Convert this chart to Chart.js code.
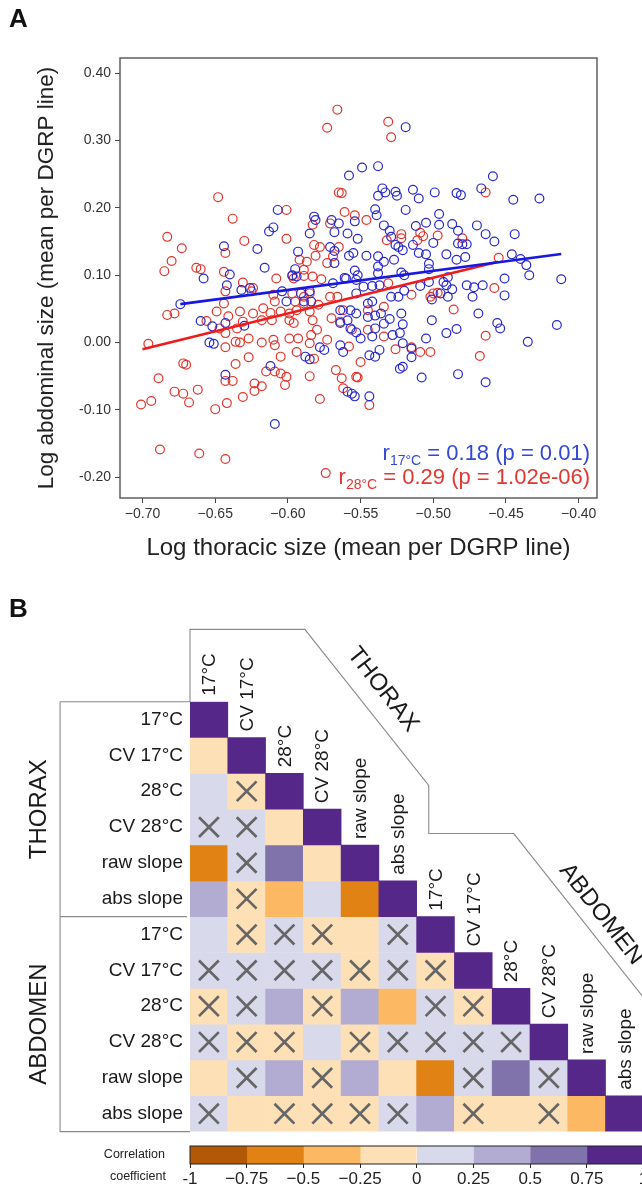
<!DOCTYPE html>
<html>
<head>
<meta charset="utf-8">
<script src="https://cdn.jsdelivr.net/npm/chart.js@4.4.0/dist/chart.umd.min.js"></script>
<style>
html, body { margin:0; padding:0; background:#fff; overflow:hidden; width:642px; height:1187px; }
.wrap { position:absolute; left:0; }
#wrapA { top:0; width:642px; height:590px; }
#wrapB { top:590px; width:660px; height:560px; }
#wrapC { top:1140px; width:660px; height:47px; }
.panel { position:absolute; left:9px; font: bold 26px "Liberation Sans", Arial, sans-serif; color:#111; }
</style>
</head>
<body>
<div class="wrap" id="wrapA"><canvas id="chartA"></canvas></div>
<div class="wrap" id="wrapB"><canvas id="chartB"></canvas></div>
<div class="wrap" id="wrapC"><canvas id="chartC"></canvas></div>
<div class="panel" style="top:3px">A</div>
<div class="panel" style="top:593px">B</div>
<script>
// ---------- panel A data ----------
// [log thoracic size, log abdominal size] per DGRP line
const blue17 = [
  [-0.558,0.248],[-0.549,0.260],[-0.607,0.197],[-0.610,0.171],[-0.613,0.165],[-0.582,0.187],[-0.581,0.182],[-0.570,0.182],
  [-0.565,0.177],[-0.554,0.180],[-0.585,0.162],[-0.568,0.164],[-0.559,0.162],[-0.552,0.154],[-0.644,0.143],[-0.621,0.139],
  [-0.593,0.135],[-0.571,0.142],[-0.568,0.136],[-0.558,0.129],[-0.555,0.133],[-0.568,0.118],[-0.616,0.111],[-0.595,0.109],
  [-0.640,0.101],[-0.658,0.095],[-0.554,0.107],[-0.561,0.096],
  [-0.519,0.320],[-0.538,0.262],[-0.459,0.247],[-0.467,0.229],[-0.535,0.229],[-0.538,0.218],[-0.533,0.223],[-0.526,0.224],
  [-0.525,0.218],[-0.514,0.227],[-0.510,0.214],[-0.499,0.223],[-0.484,0.222],[-0.481,0.219],[-0.445,0.212],[-0.427,0.214],
  [-0.540,0.198],[-0.539,0.189],[-0.519,0.197],[-0.496,0.191],[-0.505,0.178],[-0.512,0.173],[-0.496,0.175],[-0.487,0.176],
  [-0.470,0.174],[-0.534,0.174],[-0.530,0.166],[-0.483,0.166],[-0.464,0.161],[-0.444,0.161],[-0.529,0.157],[-0.526,0.145],
  [-0.524,0.142],[-0.521,0.137],[-0.514,0.145],[-0.500,0.148],[-0.483,0.147],[-0.480,0.146],[-0.477,0.146],[-0.458,0.150],
  [-0.546,0.129],[-0.538,0.128],[-0.534,0.120],[-0.527,0.123],[-0.510,0.133],[-0.505,0.131],[-0.491,0.131],[-0.484,0.123],
  [-0.478,0.127],[-0.446,0.131],[-0.440,0.124],[-0.436,0.115],[-0.503,0.117],[-0.503,0.109],[-0.522,0.104],[-0.520,0.100],
  [-0.538,0.113],[-0.538,0.103],[-0.434,0.100],[-0.451,0.095],[-0.412,0.094],[-0.552,0.100],
  [-0.451,0.070],[-0.477,0.085],[-0.472,0.082],[-0.466,0.085],[-0.473,0.068],[-0.491,0.085],[-0.493,0.090],[-0.490,0.097],
  [-0.487,0.079],[-0.495,0.073],[-0.501,0.064],[-0.490,0.068],[-0.520,0.077],[-0.524,0.068],[-0.529,0.068],[-0.509,0.084],
  [-0.503,0.090],[-0.537,0.085],[-0.542,0.084],[-0.548,0.083],[-0.553,0.073],[-0.542,0.061],[-0.545,0.058],[-0.530,0.035],
  [-0.536,0.043],[-0.540,0.040],[-0.545,0.038],[-0.522,0.043],[-0.521,0.027],[-0.534,0.028],[-0.540,0.021],[-0.542,0.009],
  [-0.550,0.006],[-0.553,0.015],[-0.528,0.011],[-0.523,0.014],[-0.521,-0.001],[-0.501,0.033],[-0.505,0.006],[-0.491,0.014],
  [-0.484,0.020],[-0.469,0.043],[-0.456,0.029],[-0.454,0.021],[-0.435,0.001],[-0.415,0.026],[-0.540,-0.021],[-0.537,-0.011],
  [-0.544,-0.019],[-0.515,-0.009],[-0.515,-0.022],[-0.521,-0.036],[-0.523,-0.039],[-0.508,-0.052],[-0.483,-0.047],[-0.464,-0.059],
  [-0.544,-0.080],[-0.554,-0.080],[-0.556,-0.076],
  [-0.660,0.032],[-0.651,-0.002],[-0.654,0.000],[-0.642,0.085],[-0.674,0.057],[-0.652,0.024],[-0.643,0.029],[-0.630,0.025],
  [-0.632,0.078],[-0.626,0.081],[-0.604,0.076],[-0.601,0.061],[-0.591,0.073],[-0.589,0.061],[-0.585,0.076],[-0.584,0.061],
  [-0.597,0.100],[-0.594,0.098],[-0.569,0.088],[-0.560,0.095],[-0.553,0.093],[-0.564,0.048],[-0.557,0.048],[-0.553,0.043],
  [-0.564,0.029],[-0.559,0.033],[-0.557,0.021],[-0.564,-0.004],[-0.562,-0.014],[-0.578,-0.007],[-0.575,-0.011],[-0.588,-0.021],
  [-0.585,-0.025],[-0.612,-0.035],[-0.643,-0.048],[-0.609,-0.121],[-0.559,-0.073]
];
const red28 = [
  [-0.566,0.346],[-0.573,0.319],[-0.648,0.216],[-0.565,0.223],[-0.563,0.222],[-0.638,0.184],[-0.601,0.197],[-0.561,0.194],
  [-0.683,0.157],[-0.673,0.140],[-0.680,0.121],[-0.685,0.106],[-0.663,0.111],[-0.660,0.109],[-0.644,0.105],[-0.643,0.133],
  [-0.630,0.151],[-0.601,0.154],[-0.583,0.175],[-0.571,0.177],[-0.554,0.189],[-0.582,0.145],[-0.578,0.142],[-0.565,0.142],
  [-0.592,0.123],[-0.587,0.120],[-0.573,0.118],[-0.569,0.128],[-0.597,0.099],[-0.608,0.095],
  [-0.531,0.328],[-0.529,0.305],[-0.546,0.182],[-0.464,0.223],[-0.532,0.152],[-0.522,0.161],[-0.522,0.155],[-0.509,0.163],
  [-0.507,0.158],[-0.497,0.159],[-0.480,0.155],[-0.511,0.152],[-0.455,0.126],
  [-0.531,0.088],[-0.458,0.081],[-0.515,0.071],[-0.502,0.068],[-0.500,0.073],[-0.497,0.074],[-0.534,0.053],[-0.545,0.048],
  [-0.486,0.049],[-0.545,0.019],[-0.556,0.019],[-0.534,0.009],[-0.526,-0.010],[-0.515,-0.007],[-0.509,-0.014],[-0.502,-0.014],
  [-0.550,-0.029],[-0.552,-0.052],[-0.544,-0.093],[-0.468,-0.020],[-0.464,0.010],
  [-0.631,0.089],[-0.624,0.081],[-0.625,0.076],[-0.643,0.076],[-0.644,0.058],[-0.596,0.095],[-0.589,0.099],[-0.583,0.098],
  [-0.577,0.094],[-0.610,0.071],[-0.609,0.061],[-0.597,0.073],[-0.595,0.061],[-0.589,0.068],[-0.585,0.073],[-0.579,0.056],
  [-0.571,0.068],[-0.566,0.068],[-0.683,0.041],[-0.678,0.043],[-0.696,-0.002],[-0.656,0.032],[-0.649,0.046],[-0.641,0.039],
  [-0.647,0.021],[-0.643,0.014],[-0.633,0.046],[-0.624,0.043],[-0.617,0.051],[-0.612,0.044],[-0.631,0.031],[-0.635,0.021],
  [-0.618,0.033],[-0.611,0.033],[-0.605,0.046],[-0.599,0.043],[-0.594,0.048],[-0.599,0.033],[-0.596,0.029],[-0.589,0.058],
  [-0.585,0.046],[-0.583,0.033],[-0.643,-0.007],[-0.636,0.001],[-0.633,0.000],[-0.627,0.006],[-0.618,0.000],[-0.610,0.004],
  [-0.609,-0.004],[-0.599,0.006],[-0.593,0.006],[-0.594,-0.014],[-0.585,-0.001],[-0.584,0.011],[-0.580,0.019],[-0.672,-0.031],
  [-0.670,-0.033],[-0.689,-0.053],[-0.678,-0.073],[-0.672,-0.076],[-0.662,-0.070],[-0.668,-0.089],[-0.701,-0.092],[-0.694,-0.087],
  [-0.636,-0.032],[-0.643,-0.057],[-0.638,-0.057],[-0.627,-0.022],[-0.631,-0.081],[-0.642,-0.090],[-0.650,-0.099],[-0.623,-0.061],
  [-0.618,-0.065],[-0.623,-0.072],[-0.615,-0.043],[-0.609,-0.043],[-0.605,-0.046],[-0.601,-0.051],[-0.602,-0.063],[-0.605,-0.021],
  [-0.585,-0.050],[-0.582,-0.024],[-0.578,-0.084],[-0.567,-0.041],[-0.563,-0.053],[-0.562,-0.068],[-0.553,-0.051],[-0.688,-0.159],
  [-0.661,-0.165],[-0.643,-0.173],[-0.574,-0.194],[-0.558,-0.006],[-0.570,0.036],[-0.564,0.031],[-0.562,0.048],[-0.573,0.004],
  [-0.581,0.129],[-0.589,0.108]
];
// regression lines (end points)
const fit17 = [[-0.674,0.057],[-0.412,0.1315]];
const fit28 = [[-0.700,-0.010],[-0.4555,0.120]];
const xTicksA = [-0.70,-0.65,-0.60,-0.55,-0.50,-0.45,-0.40];
const yTicksA = [-0.20,-0.10,0.00,0.10,0.20,0.30,0.40];
const stat17 = {r:'0.18', p:'0.01'};
const stat28 = {r:'0.29', p:'1.02e-06'};

// ---------- panel B data ----------
const rowLabels = ['17°C','CV 17°C','28°C','CV 28°C','raw slope','abs slope','17°C','CV 17°C','28°C','CV 28°C','raw slope','abs slope'];
const colLabels = rowLabels.slice();
// lower triangle of the correlation matrix, row by row
const corr = [
  [1],
  [-0.12,1],
  [0.10,-0.08,1],
  [0.05,0.03,-0.15,1],
  [-0.62,0.04,0.58,-0.18,1],
  [0.38,-0.06,-0.40,0.12,-0.64,1],
  [0.14,-0.05,0.03,-0.04,-0.16,0.06,1],
  [0.02,0.03,0.04,0.02,-0.05,0.04,-0.07,1],
  [-0.06,0.05,0.33,-0.08,0.36,-0.38,0.06,-0.09,1],
  [0.03,-0.04,-0.05,0.15,-0.07,0.05,0.04,0.06,0.08,1],
  [-0.18,0.07,0.34,-0.09,0.33,-0.17,-0.63,0.06,0.56,0.05,1],
  [0.04,-0.14,-0.06,-0.05,-0.07,0.05,0.32,-0.08,-0.13,-0.04,-0.42,1]
];
// columns that are not significant (crossed) in each row
const notSig = [[],[],[1],[0,1],[1],[1],[1,2,3,5],[0,1,2,3,4,5,6],[0,1,3,6,7],[0,1,2,4,5,6,7,8],[1,3,7,9],[0,2,3,4,5,7,9]];
const binEdges = [-1,-0.75,-0.5,-0.25,0,0.25,0.5,0.75,1];
const binColors = ['#b35806','#e08214','#fdb863','#fee0b6','#d8daeb','#b2abd2','#8073ac','#542788'];
const barLabels = ['-1','\u22120.75','\u22120.5','\u22120.25','0','0.25','0.5','0.75','1'];

const FONT = '"Liberation Sans", Arial, sans-serif';
Chart.defaults.font.family = FONT;
Chart.defaults.color = '#222';
Chart.defaults.animation = false;

function colorFor(v) {
  let i = Math.floor((v + 1) / 0.25);
  return binColors[Math.max(0, Math.min(7, i))];
}
const toXY = p => ({x: p[0], y: p[1]});

// ---------- chart A ----------
const frameA = {
  id: 'frameA',
  afterDraw(chart) {
    const {ctx, chartArea: a} = chart;
    ctx.save();
    ctx.strokeStyle = '#555';
    ctx.lineWidth = 1.4;
    ctx.strokeRect(a.left, a.top, a.right - a.left, a.bottom - a.top);
    // correlation text, right aligned
    const lines = [
      {s: stat17, sub: '17°C', col: '#3347d6', y: 460},
      {s: stat28, sub: '28°C', col: '#e3372f', y: 484}
    ];
    lines.forEach(l => {
      const rest = ' = ' + l.s.r + ' (p = ' + l.s.p + ')';
      ctx.fillStyle = l.col;
      ctx.textBaseline = 'alphabetic';
      ctx.font = '22px ' + FONT;
      const wRest = ctx.measureText(rest).width;
      const wR = ctx.measureText('r').width;
      ctx.font = '14px ' + FONT;
      const wSub = ctx.measureText(l.sub).width;
      let x = a.right - 7 - wRest - wSub - wR;
      ctx.font = '22px ' + FONT;
      ctx.fillText('r', x, l.y);
      x += wR;
      ctx.font = '14px ' + FONT;
      ctx.fillText(l.sub, x, l.y + 5);
      x += wSub;
      ctx.font = '22px ' + FONT;
      ctx.fillText(rest, x, l.y);
    });
    ctx.restore();
  }
};

new Chart(document.getElementById('chartA'), {
  type: 'scatter',
  data: {
    datasets: [
      {data: fit17.map(toXY), showLine: true, pointRadius: 0, borderColor: '#1818e0', borderWidth: 2.6},
      {data: fit28.map(toXY), showLine: true, pointRadius: 0, borderColor: '#ee1c1c', borderWidth: 2.6},
      {data: blue17.map(toXY), pointRadius: 4.4, borderWidth: 1.2, borderColor: 'rgb(40,40,205)', backgroundColor: 'rgba(0,0,0,0)'},
      {data: red28.map(toXY), pointRadius: 4.4, borderWidth: 1.2, borderColor: 'rgb(226,52,42)', backgroundColor: 'rgba(0,0,0,0)'}
    ]
  },
  options: {
    responsive: true,
    maintainAspectRatio: false,
    layout: {padding: {top: 58, right: 45, left: 0, bottom: 0}},
    plugins: {legend: {display: false}, tooltip: {enabled: false}},
    scales: {
      x: {
        type: 'linear', min: -0.7155, max: -0.3874,
        afterBuildTicks: s => { s.ticks = xTicksA.map(v => ({value: v})); },
        afterFit: s => { s.height = 92; },
        ticks: {font: {size: 14}, color: '#333', padding: 3,
          callback: v => (v < 0 ? '\u2212' : '') + Math.abs(v).toFixed(2)},
        grid: {display: true, drawOnChartArea: false, tickLength: 5, color: '#444'},
        border: {display: false},
        title: {display: true, text: 'Log thoracic size (mean per DGRP line)', font: {size: 24}, color: '#222', padding: {top: 0, bottom: 27.6}}
      },
      y: {
        type: 'linear', min: -0.231, max: 0.4227,
        afterBuildTicks: s => { s.ticks = yTicksA.map(v => ({value: v})); },
        afterFit: s => { s.width = 120; },
        ticks: {font: {size: 14}, color: '#333', padding: 4,
          callback: v => (v < -0.001 ? '-' : '') + Math.abs(v).toFixed(2)},
        grid: {display: true, drawOnChartArea: false, tickLength: 5, color: '#444'},
        border: {display: false},
        title: {display: true, text: 'Log abdominal size (mean per DGRP line)', font: {size: 22.5}, color: '#222', padding: {top: 33, bottom: 0}}
      }
    }
  },
  plugins: [frameA]
});

// ---------- chart B (heatmap) ----------
const heatSets = corr.map((row, r) => ({
  type: 'bar',
  data: row.map((v, c) => ({x: c, y: [r - 0.5, r + 0.5]})),
  backgroundColor: row.map(v => colorFor(v)),
  borderWidth: 0,
  barPercentage: 1,
  categoryPercentage: 1,
  grouped: false
}));
const crossPts = [];
notSig.forEach((cols, r) => cols.forEach(c => crossPts.push({x: c, y: r})));

const decorB = {
  id: 'decorB',
  afterDraw(chart) {
    const {ctx} = chart;
    const xs = chart.scales.x, ys = chart.scales.y;
    const X = u => xs.getPixelForValue(u - 0.5);
    const Y = v => ys.getPixelForValue(v - 0.5);
    ctx.save();
    // column labels above the diagonal
    ctx.fillStyle = '#1a1a1a';
    ctx.font = '19px ' + FONT;
    ctx.textAlign = 'left';
    ctx.textBaseline = 'middle';
    colLabels.forEach((t, c) => {
      ctx.save();
      ctx.translate(xs.getPixelForValue(c), ys.getPixelForValue(c - 0.5) - 6);
      ctx.rotate(-Math.PI / 2);
      ctx.fillText(t, 0, 1);
      ctx.restore();
    });
    // frame lines
    ctx.strokeStyle = '#8a8a8a';
    ctx.lineWidth = 1.1;
    const poly = pts => {
      ctx.beginPath();
      pts.forEach((p, i) => i ? ctx.lineTo(X(p[0]), Y(p[1])) : ctx.moveTo(X(p[0]), Y(p[1])));
      ctx.stroke();
    };
    poly([[-3.44, 0], [0, 0], [0, -2.02], [3.04, -2.02], [6.32, 2.34], [6.32, 3.68], [8.57, 3.68], [12.6, 9.05]]);
    poly([[-3.44, 0], [-3.44, 12], [0, 12]]);
    poly([[-3.44, 6], [-0.08, 6]]);
    // group names
    ctx.font = '24px ' + FONT;
    ctx.fillStyle = '#1a1a1a';
    ctx.textAlign = 'center';
    [['THORAX', 3], ['ABDOMEN', 9]].forEach(([t, v]) => {
      ctx.save();
      ctx.translate(38, Y(v));
      ctx.rotate(-Math.PI / 2);
      ctx.fillText(t, 0, 1);
      ctx.restore();
    });
    ctx.textAlign = 'left';
    [['THORAX', 4.29, -1.44], ['ABDOMEN', 9.9, 4.6]].forEach(([t, u, v]) => {
      ctx.save();
      ctx.translate(X(u), Y(v));
      ctx.rotate(52 * Math.PI / 180);
      ctx.fillText(t, 0, 0);
      ctx.restore();
    });
    ctx.restore();
  }
};

new Chart(document.getElementById('chartB'), {
  type: 'bar',
  data: {
    datasets: [
      {type: 'scatter', data: crossPts, pointStyle: 'crossRot', pointRadius: 14, borderWidth: 2.7, borderColor: '#666'},
      ...heatSets
    ]
  },
  options: {
    responsive: true,
    maintainAspectRatio: false,
    layout: {padding: {top: 111.7, right: 16.4, bottom: 10.3, left: 0}},
    plugins: {legend: {display: false}, tooltip: {enabled: false}},
    scales: {
      x: {
        type: 'linear', min: -0.5, max: 11.5, display: false, offset: false,
        afterBuildTicks: s => { s.ticks = colLabels.map((t, i) => ({value: i})); }
      },
      y: {
        type: 'linear', min: -0.5, max: 11.5, reverse: true,
        afterBuildTicks: s => { s.ticks = rowLabels.map((t, i) => ({value: i})); },
        afterFit: s => { s.width = 190; },
        ticks: {font: {size: 19}, color: '#1a1a1a', padding: 7, callback: v => rowLabels[v]},
        grid: {display: false, drawTicks: false},
        border: {display: false}
      }
    }
  },
  plugins: [decorB]
});

// ---------- chart C (colour bar) ----------
const legendC = {
  id: 'legendC',
  afterDraw(chart) {
    const {ctx, chartArea: a} = chart;
    ctx.save();
    ctx.strokeStyle = '#222';
    ctx.lineWidth = 1;
    ctx.strokeRect(a.left, a.top, a.right - a.left, a.bottom - a.top);
    ctx.fillStyle = '#222';
    ctx.font = '12.5px ' + FONT;
    ctx.textAlign = 'right';
    ctx.textBaseline = 'middle';
    ctx.fillText('Correlation', a.left - 25, 15);
    ctx.fillText('coefficient', a.left - 24, 37);
    ctx.restore();
  }
};

new Chart(document.getElementById('chartC'), {
  type: 'bar',
  data: {
    labels: [''],
    datasets: binColors.map((col, i) => ({
      data: [[binEdges[i], binEdges[i + 1]]],
      backgroundColor: col,
      borderWidth: 0,
      barPercentage: 1,
      categoryPercentage: 1,
      grouped: false
    }))
  },
  options: {
    indexAxis: 'y',
    responsive: true,
    maintainAspectRatio: false,
    layout: {padding: {top: 6, right: 16.4, bottom: 0, left: 190}},
    plugins: {legend: {display: false}, tooltip: {enabled: false}},
    scales: {
      y: {display: false},
      x: {
        type: 'linear', min: -1, max: 1,
        afterBuildTicks: s => { s.ticks = binEdges.map(v => ({value: v})); },
        afterFit: s => { s.height = 23; },
        ticks: {font: {size: 17}, color: '#222', padding: 1, maxRotation: 0,
          callback: (v, i) => barLabels[i]},
        grid: {display: true, drawOnChartArea: false, tickLength: 4, color: '#222'},
        border: {display: false}
      }
    }
  },
  plugins: [legendC]
});
</script>
</body>
</html>
